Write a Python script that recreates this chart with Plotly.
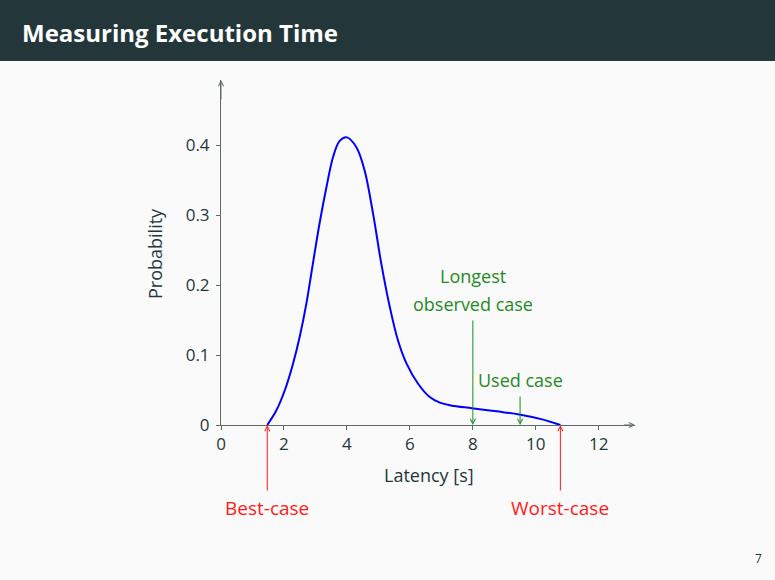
import plotly.graph_objects as go

# ---- data ----
latency = [1.47, 1.76, 2.03, 2.29, 2.50, 2.71, 2.92, 3.13, 3.35, 3.56, 3.77, 4.00,
           4.30, 4.56, 4.83, 5.09, 5.36, 5.62, 5.89, 6.26, 6.63, 6.95, 7.30, 7.97,
           8.75, 9.47, 10.20, 10.78]
probability = [0.0, 0.021, 0.050, 0.088, 0.126, 0.173, 0.231, 0.288, 0.340, 0.383, 0.406, 0.411,
               0.397, 0.364, 0.302, 0.231, 0.169, 0.121, 0.088, 0.059, 0.040, 0.032, 0.028, 0.024,
               0.0195, 0.015, 0.008, 0.0]

x_ticks = [0, 2, 4, 6, 8, 10, 12]
y_ticks = [0, 0.1, 0.2, 0.3, 0.4]
y_tick_labels = ["0", "0.1", "0.2", "0.3", "0.4"]

best_case = 1.47
worst_case = 10.78
longest_observed = 8.0
used_case = 9.5

title = "Measuring Execution Time"
x_title = "Latency [s]"
y_title = "Probability"
page_number = "7"

# ---- style ----
W, H = 775, 580
FONT = "Open Sans"
TXT = "#23373b"
AXIS = "#5f6a6c"
GREEN = "#1f8a1f"
RED = "#ff1a1a"
BLUE = "#0000ff"

X0, X1 = 221, 635   # pixel extent of the x axis
Y0, Y1 = 425, 80    # pixel extent of the y axis (bottom, top)
xmax = 13.15
ymax = 0.493
PPU_Y = (Y0 - Y1) / ymax

fig = go.Figure()
fig.add_trace(go.Scatter(
    x=latency, y=probability, mode="lines",
    line=dict(color=BLUE, width=2, shape="spline", smoothing=1.0),
    hoverinfo="skip", showlegend=False,
))

xdom = [X0 / W, X1 / W]
ydom = [(H - Y0) / H, (H - Y1) / H]

common_x = dict(range=[0, xmax], domain=xdom, tickvals=x_ticks, showgrid=False,
                zeroline=False, showline=True, linecolor=AXIS, linewidth=1,
                tickcolor=AXIS, ticklen=4, tickwidth=1)
common_y = dict(range=[0, ymax], domain=ydom, tickvals=y_ticks, showgrid=False,
                zeroline=False, showline=True, linecolor=AXIS, linewidth=1,
                tickcolor=AXIS, ticklen=4, tickwidth=1)

fig.update_layout(
    width=W, height=H,
    margin=dict(l=0, r=0, t=0, b=0, autoexpand=False),
    paper_bgcolor="#fafafa", plot_bgcolor="rgba(0,0,0,0)",
    font=dict(family=FONT, color=TXT, size=17),
    showlegend=False,
    xaxis=dict(**common_x, ticks="outside", tickfont=dict(size=17, color=TXT)),
    yaxis=dict(**common_y, ticks="outside", ticktext=y_tick_labels, ticklabelstandoff=3,
               tickfont=dict(size=17, color=TXT)),
    xaxis2=dict(**common_x, overlaying="x", anchor="y", ticks="inside", showticklabels=False),
    yaxis2=dict(**common_y, overlaying="y", anchor="x", ticks="inside", showticklabels=False),
)

# axis titles
fig.add_annotation(xref="paper", yref="paper", x=429 / W, y=1 - 475 / H, showarrow=False,
                   xanchor="center", yanchor="middle",
                   text=x_title, font=dict(size=18, color=TXT))
fig.add_annotation(xref="paper", yref="paper", x=155 / W, y=1 - 254 / H, showarrow=False,
                   xanchor="center", yanchor="middle",
                   textangle=-90, text=y_title, font=dict(size=18, color=TXT))

# title bar
fig.add_shape(type="rect", xref="paper", yref="paper", x0=0, x1=1,
              y0=1 - 61 / H, y1=1, fillcolor="#23373b", line=dict(width=0), layer="below")
fig.add_annotation(xref="paper", yref="paper", x=20 / W, y=1 - 32 / H,
                   xanchor="left", yanchor="middle", showarrow=False,
                   text="<b>" + title + "</b>", font=dict(family=FONT, size=24, color="white"))
fig.add_annotation(xref="paper", yref="paper", x=758 / W, y=1 - 558 / H,
                   xanchor="center", yanchor="middle", showarrow=False,
                   text=page_number, font=dict(family=FONT, size=12, color=TXT))

# axis arrowheads
fig.add_annotation(x=xmax, y=0, ax=xmax - 0.4, ay=0, xref="x", yref="y", axref="x", ayref="y",
                   text="", showarrow=True, arrowhead=5, arrowsize=1, arrowwidth=1, arrowcolor=AXIS)
fig.add_annotation(x=0, y=ymax, ax=0, ay=ymax - 0.03, xref="x", yref="y", axref="x", ayref="y",
                   text="", showarrow=True, arrowhead=5, arrowsize=1, arrowwidth=1, arrowcolor=AXIS)

# labelled arrows
def marker(x, text, ty, color, size):
    fig.add_annotation(x=x, y=0, ax=x, ay=ty, xref="x", yref="y", axref="x", ayref="y",
                       text=text, showarrow=True, arrowhead=5, arrowsize=1, arrowwidth=1,
                       arrowcolor=color, startstandoff=3, font=dict(size=size, color=color))

marker(best_case, "Best-case", -(508 - Y0) / PPU_Y, RED, 19)
marker(worst_case, "Worst-case", -(508 - Y0) / PPU_Y, RED, 19)
marker(longest_observed, "observed case", (Y0 - 304) / PPU_Y, GREEN, 18)
fig.add_annotation(x=longest_observed, y=(Y0 - 276) / PPU_Y, xref="x", yref="y", showarrow=False,
                   text="Longest", font=dict(size=18, color=GREEN))
marker(used_case, "Used case", (Y0 - 380) / PPU_Y, GREEN, 18)

fig.write_html("out.html", config={"displayModeBar": False},
               post_script="document.body.style.margin='0';document.body.style.overflow='hidden';")
